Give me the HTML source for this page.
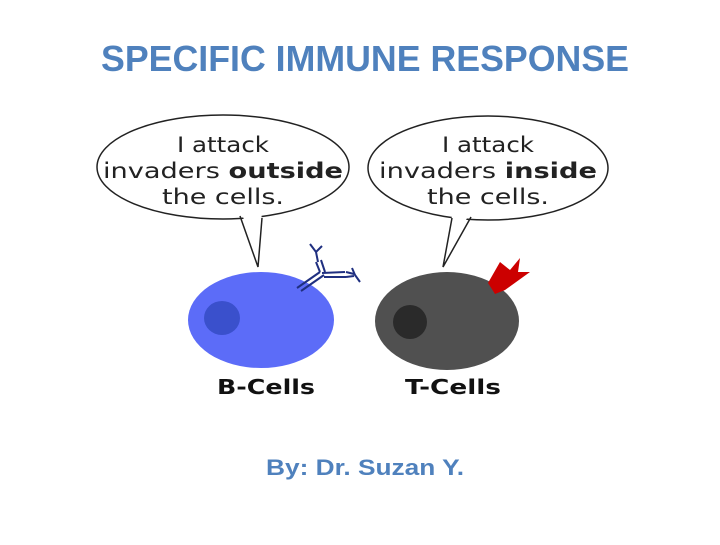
<!DOCTYPE html>
<html><head><meta charset="utf-8"><style>html,body{margin:0;padding:0;background:#fff}</style></head>
<body>
<svg width="720" height="540" viewBox="0 0 720 540" xmlns="http://www.w3.org/2000/svg" font-family="Liberation Sans, sans-serif">
<rect width="720" height="540" fill="#fff"/>
<text x="365" y="71" text-anchor="middle" font-size="36" font-weight="bold" fill="#4f81bd" textLength="528" lengthAdjust="spacingAndGlyphs">SPECIFIC IMMUNE RESPONSE</text>
<!-- bubbles -->
<ellipse cx="223" cy="167" rx="126" ry="52" fill="#fff" stroke="#222" stroke-width="1.5"/>
<polygon points="241,210 258,267 262,210" fill="#fff"/>
<polyline points="240,216 258,267 262,218" fill="none" stroke="#222" stroke-width="1.5"/>
<ellipse cx="488" cy="168" rx="120" ry="52" fill="#fff" stroke="#222" stroke-width="1.5"/>
<polygon points="453,210 443,267 471,210" fill="#fff"/>
<polyline points="452,218 443,267 471,217" fill="none" stroke="#222" stroke-width="1.5"/>
<g font-size="21" fill="#222" text-anchor="middle" font-family="DejaVu Sans, sans-serif">
<text x="223" y="152" textLength="92" lengthAdjust="spacingAndGlyphs">I attack</text>
<text x="223" y="178" textLength="240" lengthAdjust="spacingAndGlyphs">invaders <tspan font-weight="bold">outside</tspan></text>
<text x="223" y="204" textLength="122" lengthAdjust="spacingAndGlyphs">the cells.</text>
<text x="488" y="152" textLength="92" lengthAdjust="spacingAndGlyphs">I attack</text>
<text x="488" y="178" textLength="218" lengthAdjust="spacingAndGlyphs">invaders <tspan font-weight="bold">inside</tspan></text>
<text x="488" y="204" textLength="122" lengthAdjust="spacingAndGlyphs">the cells.</text>
</g>
<!-- cells -->
<ellipse cx="261" cy="320" rx="73" ry="48" fill="#5c6cf8"/>
<ellipse cx="222" cy="318" rx="18" ry="17" fill="#3a50cc"/>
<ellipse cx="447" cy="321" rx="72" ry="49" fill="#505050"/>
<ellipse cx="410" cy="322" rx="17" ry="17" fill="#2a2a2a"/>
<!-- antibody -->
<g stroke="#1f2f80" stroke-width="2" fill="none">
<line x1="297" y1="288" x2="320" y2="272"/><line x1="301" y1="291" x2="324" y2="275"/>
<line x1="316" y1="262" x2="320" y2="272"/><line x1="321" y1="260" x2="325" y2="272"/>
<path d="M310,244 L316,252 L322,246 M316,252 L318,262"/>
<path d="M322,273 L345,272 M324,277 L346,277"/>
<path d="M346,272 L354,274 M346,277 L354,276 M352,268 L355,275 L360,282"/>
</g>
<!-- red receptor -->
<path d="M488,283 L500,262 L510,270 L520,258 L518,272 L530,272 L505,290 L495,294 Z" fill="#cc0000"/>
<g font-size="20" font-weight="bold" fill="#111" text-anchor="middle" font-family="DejaVu Sans, sans-serif">
<text x="266" y="394" textLength="98" lengthAdjust="spacingAndGlyphs">B-Cells</text>
<text x="453" y="394" textLength="96" lengthAdjust="spacingAndGlyphs">T-Cells</text>
</g>
<text x="365" y="475" text-anchor="middle" font-size="22" font-weight="bold" fill="#4f81bd" textLength="198" lengthAdjust="spacingAndGlyphs">By: Dr. Suzan Y.</text>
</svg>
</body></html>
